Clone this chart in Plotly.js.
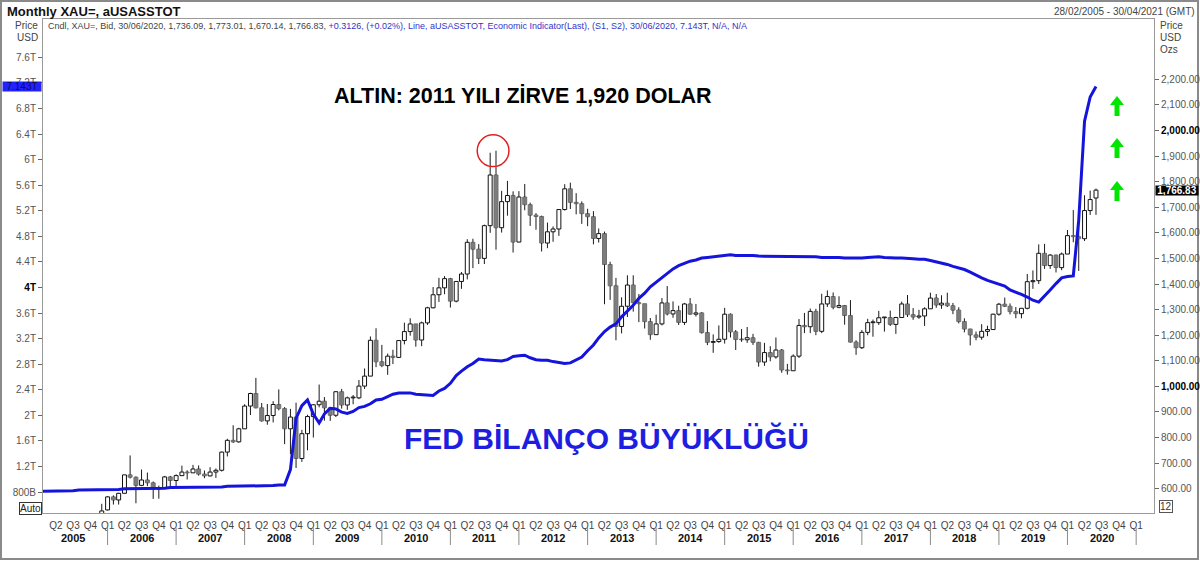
<!DOCTYPE html>
<html>
<head>
<meta charset="utf-8">
<script src="https://cdn.plot.ly/plotly-3.0.1.min.js"></script>
<style>html,body{margin:0;padding:0;background:#fff;}#chart{width:1200px;height:577px;}</style>
</head>
<body>
<div id="chart"></div>
<script>
// ---------------- DATA ----------------
// Gold (XAU=) monthly candles, Dec 2005 .. Jun 2020
const candleStart = [2005, 12];
const goldOpen = [495,
517,568,556,582,654,645,613,634,623,599,603,646,
632,651,665,662,677,657,650,665,672,743,789,783,
834,923,972,916,865,886,929,913,834,880,718,815,
882,928,942,916,887,979,927,955,955,1001,1040,1180,
1096,1081,1118,1113,1179,1214,1244,1181,1248,1307,1358,1385,
1421,1333,1410,1439,1563,1536,1500,1628,1826,1620,1722,1746,
1564,1740,1710,1669,1664,1560,1604,1615,1691,1772,1719,1714,
1675,1663,1578,1597,1476,1393,1234,1313,1396,1327,1323,1253,
1202,1244,1326,1283,1296,1250,1322,1282,1287,1210,1172,1175,
1184,1282,1213,1183,1182,1190,1172,1095,1132,1115,1142,1064,
1061,1118,1238,1233,1293,1215,1322,1351,1309,1316,1277,1173,
1151,1211,1249,1249,1268,1269,1242,1269,1322,1280,1271,1275,
1303,1345,1318,1325,1315,1298,1253,1224,1201,1192,1215,1222,
1282,1321,1313,1292,1284,1305,1409,1413,1520,1472,1513,1464,
1517,1589,1585,1577,1687,1736.09];
const goldHigh = [541,
571,574,584,654,730,648,675,663,628,612,650,650,
656,690,672,693,691,671,684,679,745,795,848,838,
930,975,1033,935,931,942,988,919,912,936,830,889,
930,1007,958,919,981,990,960,966,1025,1070,1195,1227,
1162,1128,1143,1180,1249,1266,1244,1253,1311,1388,1424,1431,
1424,1411,1447,1575,1577,1556,1632,1913,1921,1764,1803,1762,
1763,1791,1718,1677,1667,1640,1625,1693,1790,1796,1755,1723,
1694,1685,1617,1605,1487,1424,1348,1434,1434,1361,1323,1267,
1280,1345,1392,1332,1315,1326,1345,1322,1290,1255,1203,1238,
1307,1285,1220,1224,1232,1205,1174,1170,1157,1191,1146,1088,
1125,1263,1287,1304,1303,1362,1375,1367,1352,1318,1337,1180,
1220,1264,1261,1295,1270,1296,1272,1331,1357,1306,1299,1309,
1366,1361,1356,1366,1326,1309,1266,1225,1214,1243,1237,1284,
1326,1347,1324,1310,1306,1439,1453,1555,1557,1517,1515,1523,
1611,1689,1704,1747,1765,1773.01];
const goldLow = [489,
515,538,538,582,640,543,610,610,560,561,603,608,
602,650,636,662,651,641,648,642,667,726,779,780,
834,888,914,862,850,859,906,774,735,681,705,750,
800,918,866,865,880,913,908,930,950,990,1040,1075,
1075,1045,1087,1112,1164,1198,1155,1157,1240,1305,1330,1360,
1308,1328,1381,1418,1462,1478,1478,1600,1534,1601,1667,1523,
1563,1688,1627,1612,1527,1540,1565,1588,1687,1693,1672,1635,
1626,1555,1562,1321,1338,1180,1207,1271,1292,1251,1226,1182,
1202,1238,1277,1268,1240,1240,1280,1273,1206,1161,1131,1170,
1167,1191,1142,1174,1170,1162,1077,1080,1098,1108,1053,1046,
1061,1111,1208,1208,1200,1208,1310,1301,1305,1241,1171,1123,
1146,1200,1194,1240,1214,1236,1205,1267,1271,1260,1264,1236,
1303,1307,1303,1310,1282,1246,1211,1160,1180,1182,1196,1221,
1276,1310,1281,1266,1266,1301,1381,1400,1459,1459,1445,1454,
1517,1563,1451,1568,1670,1670.14];
const goldClose = [513,
568,556,582,654,645,613,634,623,599,603,646,632,
651,665,662,677,657,650,665,672,743,789,783,834,
923,972,916,865,886,929,913,834,880,718,815,882,
928,942,916,887,979,927,955,955,1001,1040,1180,1096,
1081,1118,1113,1179,1214,1244,1181,1248,1307,1358,1385,1421,
1333,1410,1439,1563,1536,1500,1628,1826,1620,1722,1746,1564,
1740,1710,1669,1664,1560,1604,1615,1691,1772,1719,1714,1675,
1663,1578,1597,1476,1393,1234,1313,1396,1327,1323,1253,1202,
1244,1326,1283,1296,1250,1322,1282,1287,1210,1172,1175,1184,
1282,1213,1183,1182,1190,1172,1095,1132,1115,1142,1064,1061,
1118,1238,1233,1293,1215,1322,1351,1309,1316,1277,1173,1151,
1211,1249,1249,1268,1269,1242,1269,1322,1280,1271,1275,1303,
1345,1318,1325,1315,1298,1253,1224,1201,1192,1215,1222,1282,
1321,1313,1292,1284,1305,1409,1413,1520,1472,1513,1464,1517,
1589,1585,1577,1687,1730,1766.83];

// Fed balance sheet (aUSASSTOT), trillions USD, monthly Jan 2005 .. Jun 2020
const fedStart = [2005, 1];
const fedAssets = [
0.81,0.81,0.81,0.82,0.82,0.82,0.82,0.83,0.83,0.83,0.84,0.84,
0.84,0.84,0.84,0.85,0.85,0.85,0.85,0.86,0.86,0.86,0.86,0.87,
0.87,0.87,0.87,0.87,0.88,0.88,0.88,0.88,0.88,0.89,0.89,0.89,
0.89,0.89,0.90,0.90,0.90,0.90,0.91,0.91,1.15,1.95,2.15,2.24,
2.02,1.88,2.02,2.11,2.10,2.05,2.03,2.06,2.12,2.14,2.18,2.24,
2.25,2.29,2.33,2.35,2.35,2.35,2.33,2.32,2.31,2.31,2.38,2.42,
2.50,2.62,2.69,2.76,2.81,2.88,2.87,2.86,2.85,2.85,2.87,2.92,
2.93,2.94,2.90,2.87,2.86,2.86,2.84,2.82,2.81,2.82,2.86,2.91,
3.01,3.10,3.21,3.31,3.38,3.43,3.54,3.63,3.72,3.83,3.91,4.01,
4.08,4.16,4.22,4.29,4.34,4.38,4.41,4.43,4.46,4.47,4.48,4.50,
4.50,4.51,4.50,4.50,4.51,4.50,4.49,4.49,4.48,4.49,4.49,4.49,
4.49,4.49,4.48,4.49,4.48,4.47,4.47,4.48,4.47,4.46,4.46,4.45,
4.46,4.47,4.48,4.48,4.47,4.46,4.46,4.46,4.46,4.45,4.44,4.44,
4.42,4.40,4.38,4.36,4.33,4.31,4.28,4.24,4.19,4.15,4.11,4.08,
4.05,4.02,3.96,3.93,3.89,3.85,3.80,3.77,3.86,3.96,4.06,4.15,
4.17,4.18,5.05,6.60,6.98,7.143];

// Tick labels
const priceTicks = [600,700,800,900,1000,1100,1200,1300,1400,1500,1600,1700,1800,1900,2000,2100,2200];
const priceTickText = ['600.00','700.00','800.00','900.00','<b style="color:#000">1,000.00</b>','1,100.00','1,200.00','1,300.00','1,400.00','1,500.00','1,600.00','1,700.00','1,800.00','1,900.00','<b style="color:#000">2,000.00</b>','2,100.00','2,200.00'];
const fedTicks = [0.8,1.2,1.6,2.0,2.4,2.8,3.2,3.6,4.0,4.4,4.8,5.2,5.6,6.0,6.4,6.8,7.2,7.6];
const fedTickText = ['800B','1.2T','1.6T','2T','2.4T','2.8T','3.2T','3.6T','<b style="color:#000">4T</b>','4.4T','4.8T','5.2T','5.6T','6T','6.4T','6.8T','7.2T','7.6T'];
const quarterLabels = ['Q1','Q2','Q3','Q4'];
const yearLabels = [2005,2006,2007,2008,2009,2010,2011,2012,2013,2014,2015,2016,2017,2018,2019,2020];

// ---------------- HELPERS ----------------
function monthSeq(start, n){
  const out=[]; let y=start[0], m=start[1];
  for(let i=0;i<n;i++){ out.push(y+'-'+String(m).padStart(2,'0')+'-01'); m++; if(m>12){m=1;y++;} }
  return out;
}
const cDates = monthSeq(candleStart, goldOpen.length);
const fDates = monthSeq(fedStart, fedAssets.length);

// wicks (upper and lower segments, not crossing the body)
const wx=[], wy=[];
const upX=[], upBase=[], upH=[], dnX=[], dnBase=[], dnH=[];
const minH = 3;
for(let i=0;i<cDates.length;i++){
  const o=goldOpen[i], h=goldHigh[i], l=goldLow[i], c=goldClose[i];
  const top=Math.max(o,c), bot=Math.min(o,c);
  wx.push(cDates[i],cDates[i],null, cDates[i],cDates[i],null);
  wy.push(h,top,null, bot,l,null);
  if(c>=o){ upX.push(cDates[i]); upBase.push(bot); upH.push(Math.max(top-bot,minH)); }
  else { dnX.push(cDates[i]); dnBase.push(bot); dnH.push(Math.max(top-bot,minH)); }
}
const bodyW = 21*86400000;

// quarter ticks from Q2 2005 to Q1 2021
const qVals=[], qText=[];
for(let y=2005;y<=2021;y++){
  for(let q=0;q<4;q++){
    const d = y+'-'+String(q*3+1).padStart(2,'0')+'-01';
    if(d>='2005-04-01' && d<='2021-01-01'){ qVals.push(d); qText.push(quarterLabels[q]); }
  }
}

// pixel -> paper helpers for decorations (plot area: x 43..1154, y 19..513)
const L=43, R=1154, T=19, B=513;
const px = x => (x-L)/(R-L);
const py = y => (B-y)/(B-T);

const FONT = 'Liberation Sans, Arial, sans-serif';

const traces = [
  {type:'scatter', mode:'lines', x:wx, y:wy, yaxis:'y', line:{color:'#1a1a1a', width:1}, hoverinfo:'skip', showlegend:false, connectgaps:false},
  {type:'bar', x:upX, y:upH, base:upBase, width:bodyW, yaxis:'y', marker:{color:'#ffffff', line:{color:'#111111', width:1}}, showlegend:false, hoverinfo:'skip'},
  {type:'bar', x:dnX, y:dnH, base:dnBase, width:bodyW, yaxis:'y', marker:{color:'#7d7d7d', line:{color:'#6f6f6f', width:1}}, showlegend:false, hoverinfo:'skip'},
  {type:'scatter', mode:'lines', x:fDates, y:fedAssets, yaxis:'y2', line:{color:'#1414dc', width:3}, showlegend:false, hoverinfo:'skip'}
];

const fmt2 = v => v.toLocaleString('en-US',{minimumFractionDigits:2, maximumFractionDigits:2});
const n = goldOpen.length-1;
const lastDate = '30/06/2020';
const infoText = 'Cndl, XAU=, Bid, '+lastDate+', '+fmt2(goldOpen[n])+', '+fmt2(goldHigh[n])+', '+fmt2(goldLow[n])+', '+fmt2(goldClose[n])+
  ', <span style="color:#3434c8">+0.3126, (+0.02%), Line, aUSASSTOT, Economic Indicator(Last), (S1, S2), '+lastDate+', '+fedAssets[fedAssets.length-1].toFixed(3)+'T, N/A, N/A</span>';

const annotations = [
  {xref:'paper', yref:'paper', x:px(5), y:py(12), xanchor:'left', yanchor:'middle', text:'<b>Monthly XAU=, aUSASSTOT</b>', showarrow:false, font:{family:FONT, size:13, color:'#111'}},
  {xref:'paper', yref:'paper', x:px(46), y:py(26), xanchor:'left', yanchor:'middle', text:infoText, showarrow:false, font:{family:FONT, size:9, color:'#444'}},
  {xref:'paper', yref:'paper', x:px(1197), y:py(12), xanchor:'right', yanchor:'middle', text:'28/02/2005 - 30/04/2021 (GMT)', showarrow:false, font:{family:FONT, size:10, color:'#444'}},
  {xref:'paper', yref:'paper', x:px(1158), y:py(26), xanchor:'left', yanchor:'middle', text:'Price', showarrow:false, font:{family:FONT, size:10, color:'#444'}},
  {xref:'paper', yref:'paper', x:px(1158), y:py(37.5), xanchor:'left', yanchor:'middle', text:'USD', showarrow:false, font:{family:FONT, size:10, color:'#444'}},
  {xref:'paper', yref:'paper', x:px(1158), y:py(49), xanchor:'left', yanchor:'middle', text:'Ozs', showarrow:false, font:{family:FONT, size:10, color:'#444'}},
  {xref:'paper', yref:'paper', x:px(40), y:py(25), xanchor:'right', yanchor:'middle', text:'Price', showarrow:false, font:{family:FONT, size:10, color:'#444'}},
  {xref:'paper', yref:'paper', x:px(40), y:py(37), xanchor:'right', yanchor:'middle', text:'USD', showarrow:false, font:{family:FONT, size:10, color:'#444'}},
  {xref:'paper', yref:'paper', x:px(523), y:py(96), xanchor:'center', yanchor:'middle', text:'<b>ALTIN: 2011 YILI ZİRVE 1,920 DOLAR</b>', showarrow:false, font:{family:FONT, size:21.5, color:'#000'}},
  {xref:'paper', yref:'paper', x:px(606), y:py(438), xanchor:'center', yanchor:'middle', text:'<b>FED BİLANÇO BÜYÜKLÜĞÜ</b>', showarrow:false, font:{family:FONT, size:30, color:'#1e1ee0'}},
  {xref:'paper', yref:'y2', x:px(22), y:fedAssets[fedAssets.length-1], xanchor:'center', yanchor:'middle', text:fedAssets[fedAssets.length-1].toFixed(3)+'T', showarrow:false, bgcolor:'#2222ff', width:38, height:9, borderpad:0, font:{family:FONT, size:10, color:'#0a0a5a'}},
  {xref:'paper', yref:'y', x:px(1155), y:goldClose[n], xanchor:'left', yanchor:'middle', text:'<b>'+fmt2(goldClose[n])+'</b>', showarrow:false, bgcolor:'#000', width:42, height:9, borderpad:0, font:{family:FONT, size:10, color:'#fff'}},
  {xref:'paper', yref:'paper', x:px(30), y:py(508), xanchor:'center', yanchor:'middle', text:'Auto', showarrow:false, bordercolor:'#333', borderwidth:1, borderpad:0, font:{family:FONT, size:10, color:'#222'}},
  {xref:'paper', yref:'paper', x:px(1166), y:py(506), xanchor:'center', yanchor:'middle', text:'12', showarrow:false, bordercolor:'#555', borderwidth:1, borderpad:0, font:{family:FONT, size:10, color:'#333'}}
];
// year labels
yearLabels.forEach(y=>{
  annotations.push({xref:'x', yref:'paper', x:y+'-07-01', y:py(538), xanchor:'center', yanchor:'middle', text:'<b>'+y+'</b>', showarrow:false, font:{family:FONT, size:11, color:'#111'}});
});

const shapes = [
  {type:'rect', xref:'paper', yref:'paper', x0:px(1), x1:px(1198), y0:py(559), y1:py(1), line:{color:'#8a8a8a', width:2}, layer:'below'},
  {type:'circle', xref:'x', yref:'y', x0:'2011-05-24', x1:'2011-11-09', y0:1859, y1:1983, line:{color:'#e02020', width:1.5}}
];
for(let y=2006;y<=2021;y++){
  shapes.push({type:'line', xref:'x', yref:'paper', x0:y+'-01-01', x1:y+'-01-01', y0:py(528), y1:py(545), line:{color:'#8a8a8a', width:1}});
}
// green block arrows (decoration)
function arrowPath(cx, top){
  const pts = [[cx,top],[cx+7,top+9],[cx+2.5,top+9],[cx+2.5,top+20],[cx-2.5,top+20],[cx-2.5,top+9],[cx-7,top+9]];
  return 'M ' + pts.map(p=>px(p[0]).toFixed(5)+' '+py(p[1]).toFixed(5)).join(' L ') + ' Z';
}
[96,138,181].forEach(t=>{
  shapes.push({type:'path', xref:'paper', yref:'paper', path:arrowPath(1117,t), fillcolor:'#00e600', line:{width:0}});
});

const layout = {
  width:1200, height:577,
  margin:{l:L, r:1200-R, t:T, b:577-B, pad:0},
  paper_bgcolor:'#fff', plot_bgcolor:'#fff',
  showlegend:false, barmode:'overlay',
  font:{family:FONT},
  xaxis:{type:'date', range:['2005-01-22','2021-04-06'], showgrid:false, zeroline:false,
    showline:true, linecolor:'#9a9a9a', linewidth:1, mirror:true,
    tickmode:'array', tickvals:qVals, ticktext:qText, ticks:'', ticklabelstandoff:3,
    tickfont:{family:FONT, size:10, color:'#444'}, tickangle:0, automargin:false},
  yaxis:{side:'right', range:[505,2435.7], showgrid:false, zeroline:false,
    showline:true, linecolor:'#9a9a9a', linewidth:1,
    tickmode:'array', tickvals:priceTicks, ticktext:priceTickText, ticks:'outside', ticklen:4, tickcolor:'#666',
    tickfont:{family:FONT, size:10, color:'#555'}, automargin:false},
  yaxis2:{overlaying:'y', side:'left', range:[0.4715,8.199], showgrid:false, zeroline:false,
    showline:true, linecolor:'#9a9a9a', linewidth:1,
    tickmode:'array', tickvals:fedTicks, ticktext:fedTickText, ticks:'outside', ticklen:4, tickcolor:'#666',
    tickfont:{family:FONT, size:10, color:'#555'}, automargin:false},
  annotations:annotations,
  shapes:shapes
};

Plotly.newPlot('chart', traces, layout, {displayModeBar:false, staticPlot:true});
</script>
</body>
</html>
